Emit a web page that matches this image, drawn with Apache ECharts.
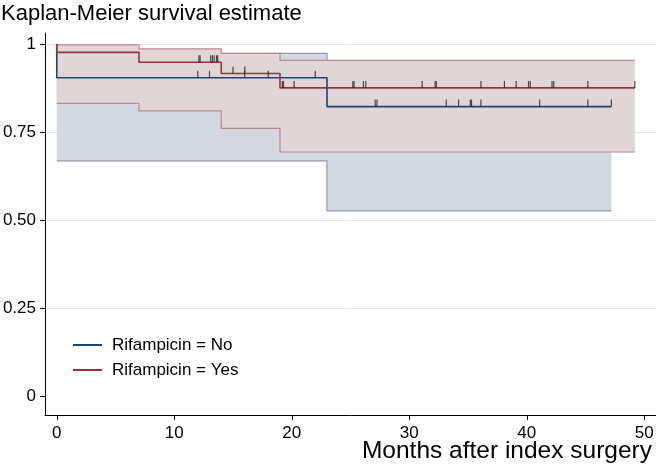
<!DOCTYPE html>
<html><head><meta charset="utf-8">
<script src="https://cdn.jsdelivr.net/npm/echarts@6/dist/echarts.min.js"></script>
<style>html,body{margin:0;padding:0;background:#fff}#c{width:656px;height:468px}</style>
</head><body><div id="c"></div>
<script>
const xTicks = [0, 10, 20, 30, 40, 50];
const yTicks = [0, 0.25, 0.5, 0.75, 1];
const seriesNames = ['Rifampicin = No', 'Rifampicin = Yes'];
const xAxisTitle = 'Months after index surgery';

// Rifampicin = No
const noTimes = [0, 0, 23, 47.2];
const noSurv = [1, 0.904, 0.822, 0.822];
const noBandTimes = [0, 23, 47.2];
const noUpper = [0.973, 0.93, 0.93];
const noLower = [0.668, 0.526, 0.526];
const noCensor = [12, 13, 16, 18, 22, 27.1, 27.25, 33.15, 34.2, 35.2, 35.3, 36.1, 41.1, 45.2, 47.2];

// Rifampicin = Yes
const yesTimes = [0, 0, 7, 14, 19, 49.2];
const yesSurv = [1, 0.976, 0.948, 0.916, 0.875, 0.875];
const yesBandTimes = [0, 7, 14, 19, 49.2];
const yesUpper = [0.997, 0.986, 0.973, 0.953, 0.953];
const yesLower = [0.831, 0.810, 0.760, 0.693, 0.693];
const yesCensor = [12.1, 12.2, 13.1, 13.25, 13.4, 13.6, 13.7, 15, 16, 19.2, 19.3, 20.2, 25.2, 25.3, 26.1, 26.3, 31.1, 32.2, 32.3, 36.1, 38.1, 39.1, 40.15, 40.3, 42.15, 42.3, 45.2, 49.2];

const FONT = '"Liberation Sans", Arial, Helvetica, sans-serif';
const BLUE = '#1a476f', RED = '#90353b';

function survAt(T, S, t) {
  let v = S[0];
  for (let i = 0; i < T.length; i++) { if (T[i] <= t) v = S[i]; }
  return v;
}

function bandSeries(T, U, L, fill, stroke, z) {
  return {
    type: 'custom', silent: true, z: z,
    data: T.map((t, i) => [t, L[i], U[i]]),
    encode: { x: 0, y: [1, 2] },
    renderItem: function (params, api) {
      if (params.dataIndex !== 0) return null;
      const up = [], lo = [];
      for (let i = 0; i < T.length - 1; i++) {
        up.push(api.coord([T[i], U[i]]), api.coord([T[i + 1], U[i]]));
        lo.push(api.coord([T[i], L[i]]), api.coord([T[i + 1], L[i]]));
      }
      return {
        type: 'group', children: [
          { type: 'polygon', shape: { points: up.concat(lo.slice().reverse()) }, style: { fill: fill } },
          { type: 'polyline', shape: { points: up }, style: { stroke: stroke, lineWidth: 1.2, fill: null } },
          { type: 'polyline', shape: { points: lo }, style: { stroke: stroke, lineWidth: 1.2, fill: null } }
        ]
      };
    }
  };
}

function censorSeries(T, S, C) {
  return {
    type: 'scatter', silent: true, z: 10,
    symbol: 'rect', symbolSize: [1.2, 7], symbolOffset: [0, -3.5],
    itemStyle: { color: '#222' },
    data: C.map(t => [t, survAt(T, S, t)])
  };
}

const chart = echarts.init(document.getElementById('c'), null, { renderer: 'canvas' });
chart.setOption({
  animation: false,
  backgroundColor: '#fff',
  textStyle: { fontFamily: FONT },
  title: [
    {
      text: 'Kaplan-Meier survival estimate', left: 1, top: 1, padding: [2, 0, 0, 0],
      textStyle: { fontFamily: FONT, fontSize: 22, fontWeight: 'normal', color: '#000' }
    },
    {
      text: xAxisTitle, right: 4, top: 439, padding: 0,
      textStyle: { fontFamily: FONT, fontSize: 24.5, fontWeight: 'normal', color: '#000' }
    }
  ],
  grid: { left: 45, right: 0, top: 33, bottom: 53, containLabel: false, outerBoundsMode: 'none' },
  legend: {
    data: seriesNames, orient: 'vertical', left: 73, top: 335, padding: 0,
    icon: 'rect', itemWidth: 29, itemHeight: 2, itemGap: 5,
    textStyle: { fontFamily: FONT, fontSize: 17, color: '#000', lineHeight: 20, padding: [0, 0, 0, 5] }
  },
  xAxis: {
    type: 'value', min: -1, max: 51,
    axisLine: { show: true, onZero: false, lineStyle: { color: '#000', width: 1 } },
    axisTick: { show: true, customValues: xTicks, length: 5, lineStyle: { color: '#000' } },
    axisLabel: { customValues: xTicks, fontFamily: FONT, fontSize: 17, color: '#000', margin: 10 },
    splitLine: { show: false }
  },
  yAxis: {
    type: 'value', min: -0.054, max: 1.031,
    axisLine: { show: true, onZero: false, lineStyle: { color: '#000', width: 1 } },
    axisTick: { show: true, customValues: yTicks, length: 5, lineStyle: { color: '#000' } },
    axisLabel: {
      customValues: yTicks, fontFamily: FONT, fontSize: 17, color: '#000', margin: 9,
      formatter: v => (v === 0 ? '0' : v === 1 ? '1' : v.toFixed(2))
    },
    splitLine: { show: true, lineStyle: { color: ['rgba(0,0,0,0)', '#e3e8ec', '#e3e8ec', '#e3e8ec', '#e3e8ec'], width: 1 } }
  },
  series: [
    bandSeries(noBandTimes, noUpper, noLower, '#d3d8e0', '#8e99ab', 1),
    bandSeries(yesBandTimes, yesUpper, yesLower, '#e2d5d8', '#b78a92', 2),
    {
      name: seriesNames[0], type: 'line', step: 'end', z: 5, color: BLUE,
      showSymbol: false, symbol: 'none', lineStyle: { color: BLUE, width: 1.6 },
      data: noTimes.map((t, i) => [t, noSurv[i]])
    },
    {
      name: seriesNames[1], type: 'line', step: 'end', z: 6, color: RED,
      showSymbol: false, symbol: 'none', lineStyle: { color: RED, width: 1.6 },
      data: yesTimes.map((t, i) => [t, yesSurv[i]])
    },
    censorSeries(noTimes, noSurv, noCensor),
    censorSeries(yesTimes, yesSurv, yesCensor)
  ]
});
</script>
</body></html>
